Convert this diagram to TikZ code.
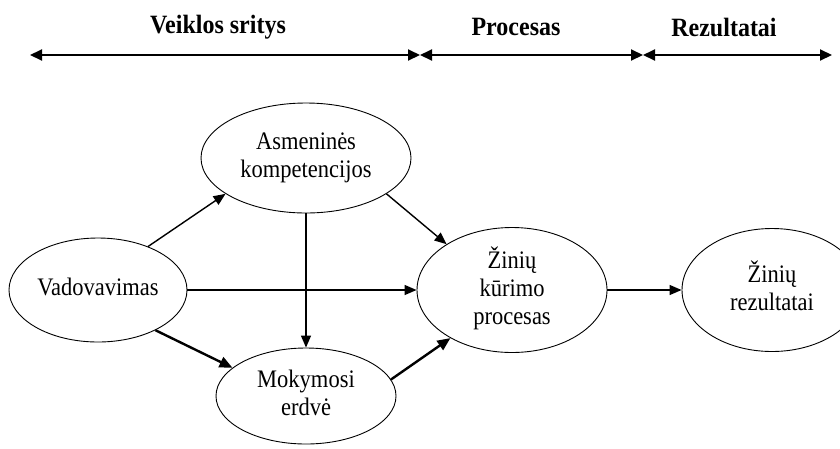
\documentclass[tikz,border=0pt]{standalone}
\usepackage{fontspec}
\setmainfont{Liberation Serif}
\usetikzlibrary{arrows.meta,shapes.geometric}
\newcommand\stx[1]{\scalebox{1}[1.12]{\begin{tabular}{@{}c@{}}#1\end{tabular}}}
\newcommand\sth[1]{\scalebox{1}[1.1]{#1}}
\begin{document}
\begin{tikzpicture}[x=1pt,y=-1pt,
  ell/.style={draw, ellipse, line width=0.9pt, inner sep=0pt, font=\fontsize{22.5}{25}\selectfont},
  hdr/.style={font=\fontsize{24}{28}\selectfont\bfseries},
  arr/.style={-{Triangle[length=12pt,width=10pt]}, line width=1.4pt},
  thk/.style={-{Triangle[length=13pt,width=11pt]}, line width=2.4pt},
  hline/.style={{Triangle[length=12pt,width=11pt]}-{Triangle[length=12pt,width=11pt]}, line width=2pt}]
\useasboundingbox (0,0) rectangle (840,448);
\clip (0,0) rectangle (840,448);

% header
\node[hdr] (h1) at (218,27) {\sth{Veiklos sritys}};
\node[hdr] (h2) at (516,27) {\sth{Procesas}};
\node[hdr] (h3) at (724,27) {\sth{Rezultatai}};
\coordinate (a0) at (30,55);
\coordinate (a1) at (420,55);
\coordinate (a2) at (643,55);
\coordinate (a3) at (832,55);
\draw[hline] (a0) -- (a1);
\draw[hline] (a1) -- (a2);
\draw[hline] (a2) -- (a3);

% nodes
\node[ell, minimum width=178, minimum height=104] (vad) at (98,290) {\stx{Vadovavimas}};
\node[ell, minimum width=210, minimum height=110] (asm) at (306,158) {\stx{Asmeninės\\kompetencijos}};
\node[ell, minimum width=180, minimum height=96] (mok) at (306,396) {\stx{Mokymosi\\erdvė}};
\node[ell, minimum width=190, minimum height=125] (zin) at (512,290) {\stx{Žinių\\kūrimo\\procesas}};
\node[ell, minimum width=180, minimum height=123] (rez) at (772,290) {\stx{Žinių\\rezultatai}};

% edges
\draw[arr] (vad.41) -- (asm.204);
\draw[arr] (asm.south) -- (mok.north);
\draw[arr] (vad.east) -- (zin.west);
\draw[thk] (vad.325) -- (mok.159.5);
\draw[arr] (asm.336.5) -- (zin.145);
\draw[thk] (mok.11) -- (zin.218);
\draw[arr] (zin.east) -- (rez.west);
\end{tikzpicture}
\end{document}
